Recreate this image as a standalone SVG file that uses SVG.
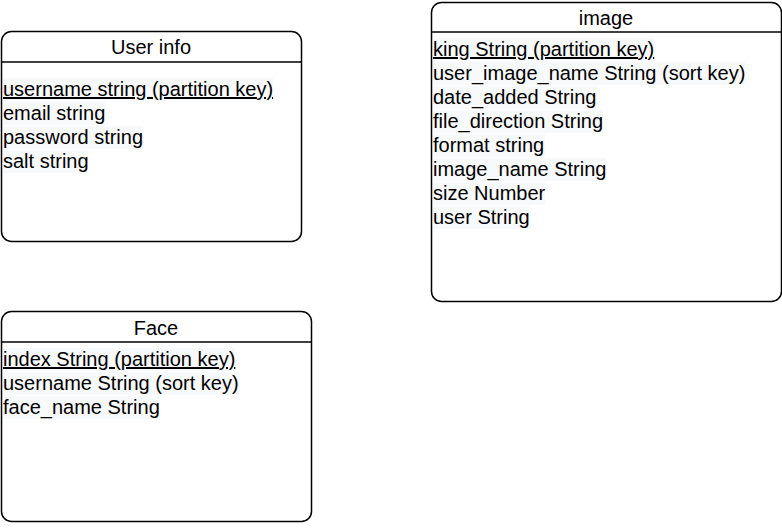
<svg xmlns="http://www.w3.org/2000/svg" width="782" height="530" viewBox="0 0 782 530">
<style>
.box{fill:#fff;stroke:#000;stroke-width:1.5}
.sep{stroke:#000;stroke-width:1.5}
.t{font-family:"Liberation Sans",Arial,sans-serif;font-size:20px;fill:#000}
.title{text-anchor:middle}
.hl{fill:#f8f9fa}
.u{text-decoration:underline}
</style>
<rect width="782" height="530" fill="#fff"/>
<g id="user-info">
<rect class="box" x="1.5" y="31.5" width="300" height="210" rx="10"/>
<line class="sep" x1="1.5" y1="62" x2="301.5" y2="62"/>
<text class="t title" x="151" y="54">User info</text>
<rect class="hl" x="3" y="78" width="270" height="23"/>
<rect class="hl" x="3" y="102" width="102" height="23"/>
<rect class="hl" x="3" y="126" width="140" height="23"/>
<rect class="hl" x="3" y="150" width="85" height="23"/>
<text class="t u" x="3" y="96">username string (partition key)</text>
<text class="t" x="3" y="120">email string</text>
<text class="t" x="3" y="144">password string</text>
<text class="t" x="3" y="168">salt string</text>
</g>
<g id="image">
<rect class="box" x="431.5" y="2.5" width="350" height="299" rx="10"/>
<line class="sep" x1="431.5" y1="32" x2="781.5" y2="32"/>
<text class="t title" x="606" y="25">image</text>
<rect class="hl" x="433" y="38" width="222" height="23"/>
<rect class="hl" x="433" y="62" width="312" height="23"/>
<rect class="hl" x="433" y="86" width="164" height="23"/>
<rect class="hl" x="433" y="110" width="170" height="23"/>
<rect class="hl" x="433" y="134" width="112" height="23"/>
<rect class="hl" x="433" y="158" width="173" height="23"/>
<rect class="hl" x="433" y="182" width="112" height="23"/>
<rect class="hl" x="433" y="206" width="96" height="23"/>
<text class="t u" x="433" y="56">king String (partition key)</text>
<text class="t" x="433" y="80">user_image_name String (sort key)</text>
<text class="t" x="433" y="104">date_added String</text>
<text class="t" x="433" y="128">file_direction String</text>
<text class="t" x="433" y="152">format string</text>
<text class="t" x="433" y="176">image_name String</text>
<text class="t" x="433" y="200">size Number</text>
<text class="t" x="433" y="224">user String</text>
</g>
<g id="face">
<rect class="box" x="1.5" y="311.5" width="310" height="210" rx="10"/>
<line class="sep" x1="1.5" y1="342" x2="311.5" y2="342"/>
<text class="t title" x="156" y="335">Face</text>
<rect class="hl" x="3" y="348" width="232" height="23"/>
<rect class="hl" x="3" y="372" width="236" height="23"/>
<rect class="hl" x="3" y="396" width="156" height="23"/>
<text class="t u" x="3" y="366">index String (partition key)</text>
<text class="t" x="3" y="390">username String (sort key)</text>
<text class="t" x="3" y="414">face_name String</text>
</g>
<g id="connectors"></g>
</svg>
